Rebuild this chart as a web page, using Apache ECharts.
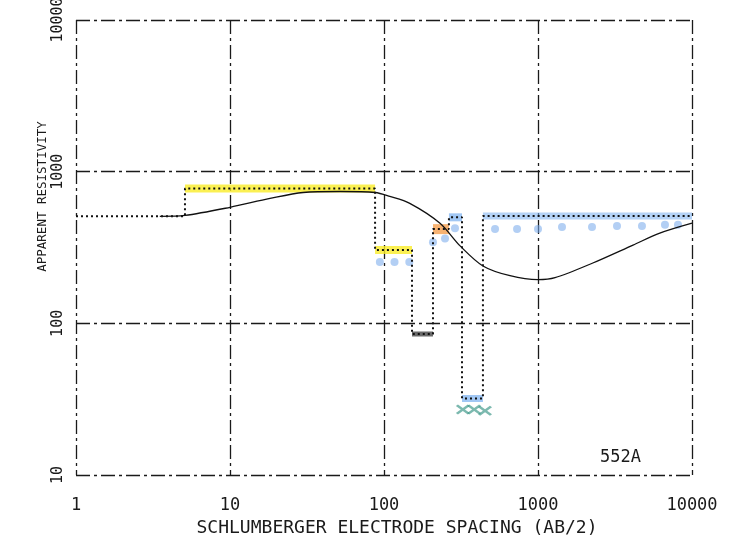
<!DOCTYPE html>
<html>
<head>
<meta charset="utf-8">
<script src="https://cdn.jsdelivr.net/npm/echarts@6/dist/echarts.min.js"></script>
<style>
  html, body { margin: 0; padding: 0; background: #fff; }
  #chart { width: 747px; height: 552px; }
</style>
</head>
<body>
<div id="chart"></div>
<script>
// Schlumberger sounding 552A: apparent resistivity vs AB/2 (log-log)

// Computed model response curve
const curveSpacing = [3.5, 5.1, 10, 18.2, 29.8, 51.8, 87.5, 109, 147, 231, 312, 439, 658, 1000, 1290, 2270, 4140, 6180, 10000];
const curveRho     = [508, 515, 582, 666, 729, 740, 729, 687, 618, 457, 324, 239, 206, 194, 200, 250, 328, 393, 457];

// Layered model: layer tops (AB/2) and layer resistivities
const layerTop = [1, 5.1, 87.5, 152, 208, 264, 321, 439];
const layerRho = [508, 774, 305, 85, 418, 500, 32, 510];
const spacingMax = 10000;

// Field observations
const obsSpacing = [94, 117, 146, 208, 249, 289, 526, 731, 1000, 1432, 2243, 3258, 4733, 6675, 8110];
const obsRho     = [254, 254, 254, 343, 362, 424, 418, 418, 418, 432, 432, 439, 439, 447, 447];

// Crossed-out readings
const rejSpacing = [325, 385, 453];
const rejRho     = [27, 27, 26.5];

// Axis ticks
const xTicks = [1, 10, 100, 1000, 10000];
const yTicks = [10, 100, 1000, 10000];

// Highlighted layers (index into layer arrays) and their marker colours
const highlightLayers = [1, 2, 3, 4, 5, 6, 7];
const highlightStyle = {
  1: { color: 'rgba(250,236,40,0.8)', width: 8 },
  2: { color: 'rgba(250,236,40,0.8)', width: 8 },
  3: { color: 'rgba(80,80,80,0.85)', width: 5 },
  4: { color: 'rgba(245,160,80,0.8)', width: 10 },
  5: { color: 'rgba(130,180,240,0.75)', width: 8 },
  6: { color: 'rgba(130,180,240,0.75)', width: 7 },
  7: { color: 'rgba(130,180,240,0.6)', width: 7 }
};

const FONT = 'DejaVu Sans Mono';
const INK = '#1a1a1a';
const dashDot = [14, 4, 3, 4];

// Step line: each layer drawn from its top to the next layer top
const stepData = layerTop.map((x, i) => [x, layerRho[i]]);
stepData.push([spacingMax, layerRho[layerRho.length - 1]]);

const highlightSeries = highlightLayers.map(i => ({
  type: 'line',
  data: [[layerTop[i], layerRho[i]], [i + 1 < layerTop.length ? layerTop[i + 1] : spacingMax, layerRho[i]]],
  symbol: 'none',
  lineStyle: { color: highlightStyle[i].color, width: highlightStyle[i].width, cap: 'butt' },
  z: 1,
  silent: true
}));

const crossPath = 'path://M0,1.5L1.5,0L5,3.5L8.5,0L10,1.5L6.5,5L10,8.5L8.5,10L5,6.5L1.5,10L0,8.5L3.5,5Z';

const chart = echarts.init(document.getElementById('chart'));
chart.setOption({
  animation: false,
  backgroundColor: '#fff',
  grid: { left: 76, right: 55, top: 20, bottom: 77, containLabel: false, outerBoundsMode: 'none' },
  title: {
    text: '552A',
    left: 595,
    top: 444,
    textStyle: { fontFamily: FONT, fontSize: 17, fontWeight: 'normal', color: INK }
  },
  xAxis: {
    type: 'log',
    logBase: 10,
    min: xTicks[0],
    max: xTicks[xTicks.length - 1],
    name: 'SCHLUMBERGER ELECTRODE SPACING (AB/2)',
    nameLocation: 'middle',
    nameGap: 40,
    nameTextStyle: { fontFamily: FONT, fontSize: 18, color: INK, padding: [0, 0, 0, 26] },
    axisLine: { show: false },
    axisTick: { show: false },
    axisLabel: {
      fontFamily: FONT, fontSize: 17, color: INK, margin: 22,
      formatter: v => String(Math.round(v))
    },
    splitLine: { show: true, lineStyle: { color: INK, width: 1.3, type: dashDot } }
  },
  yAxis: {
    type: 'log',
    logBase: 10,
    min: yTicks[0],
    max: yTicks[yTicks.length - 1],
    name: 'APPARENT RESISTIVITY',
    nameLocation: 'middle',
    nameRotate: 90,
    nameGap: 27,
    nameMoveOverlap: false,
    nameTextStyle: { fontFamily: FONT, fontSize: 12.5, color: INK, padding: [0, 0, 0, 102] },
    axisLine: { show: false },
    axisTick: { show: false },
    axisLabel: {
      fontFamily: FONT, fontSize: 15, color: INK, margin: 10, rotate: 90,
      formatter: v => String(Math.round(v))
    },
    splitLine: { show: true, lineStyle: { color: INK, width: 1.3, type: dashDot } }
  },
  series: [
    ...highlightSeries,
    {
      type: 'line',
      data: stepData,
      step: 'end',
      symbol: 'none',
      lineStyle: { color: '#111', width: 2, type: [2, 3] },
      z: 3
    },
    {
      type: 'line',
      data: curveSpacing.map((x, i) => [x, curveRho[i]]),
      smooth: 0.3,
      symbol: 'none',
      lineStyle: { color: '#111', width: 1.3 },
      z: 4
    },
    {
      type: 'scatter',
      data: obsSpacing.map((x, i) => [x, obsRho[i]]),
      symbol: 'circle',
      symbolSize: 8,
      itemStyle: { color: 'rgba(120,170,235,0.7)' },
      z: 2
    },
    {
      type: 'scatter',
      data: rejSpacing.map((x, i) => [x, rejRho[i]]),
      symbol: crossPath,
      symbolSize: [14, 10],
      itemStyle: { color: 'rgba(50,145,130,0.8)' },
      z: 2
    }
  ]
});
</script>
</body>
</html>
